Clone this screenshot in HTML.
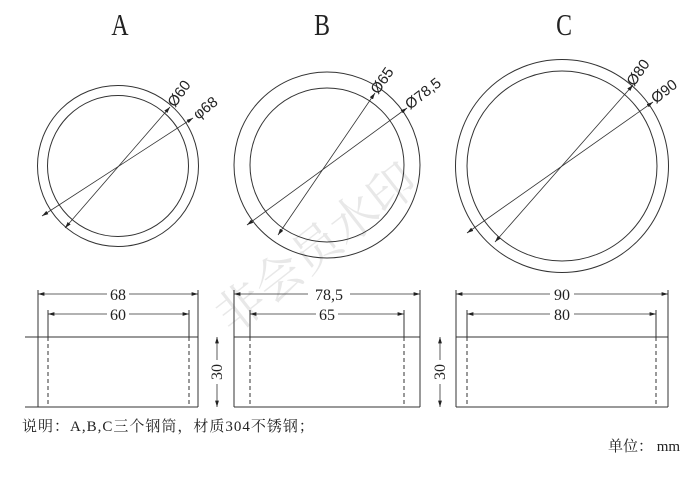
<!DOCTYPE html>
<html><head><meta charset="utf-8"><style>
html,body{margin:0;padding:0;background:#fff;}
svg{display:block;}
text{font-family:"Liberation Serif","Noto Serif CJK SC",serif;fill:#222;}
.s{font-family:"Liberation Sans","DejaVu Sans",sans-serif;}
</style></head><body>
<svg width="700" height="494" viewBox="0 0 700 494" xmlns="http://www.w3.org/2000/svg">
<defs>
<marker id="a" viewBox="0 0 10 6" refX="10" refY="3" markerWidth="8" markerHeight="5" orient="auto-start-reverse"><path d="M0,0L10,3L0,6z" fill="#222"/></marker>
</defs>
<text transform="translate(232,335) rotate(-38)" font-size="48" style="fill:#e8e8e8">非会员水印</text>
<g stroke="#333" fill="none" stroke-width="1">
<circle cx="118" cy="166" r="80.5"/><circle cx="118" cy="166" r="70.5"/>
<circle cx="327" cy="165" r="93"/><circle cx="327" cy="165" r="77"/>
<circle cx="562" cy="166" r="106.5"/><circle cx="562" cy="166" r="95"/>
<line x1="42" y1="216" x2="193" y2="118" marker-start="url(#a)" marker-end="url(#a)" stroke-width="0.8"/>
<line x1="65" y1="228" x2="170" y2="107" marker-start="url(#a)" marker-end="url(#a)" stroke-width="0.8"/>
<line x1="247" y1="225" x2="407" y2="108" marker-start="url(#a)" marker-end="url(#a)" stroke-width="0.8"/>
<line x1="278" y1="235" x2="375" y2="93" marker-start="url(#a)" marker-end="url(#a)" stroke-width="0.8"/>
<line x1="467" y1="233" x2="653" y2="102" marker-start="url(#a)" marker-end="url(#a)" stroke-width="0.8"/>
<line x1="495" y1="242" x2="633" y2="85" marker-start="url(#a)" marker-end="url(#a)" stroke-width="0.8"/>
<line x1="25" y1="337" x2="198" y2="337"/><line x1="25" y1="407" x2="198" y2="407"/>
<line x1="38" y1="290" x2="38" y2="407"/><line x1="198" y1="290" x2="198" y2="407"/>
<line x1="48" y1="310" x2="48" y2="337"/><line x1="189" y1="310" x2="189" y2="337"/>
<line x1="48" y1="337" x2="48" y2="407" stroke-dasharray="4,3"/><line x1="189" y1="337" x2="189" y2="407" stroke-dasharray="4,3"/>
<line x1="38" y1="294" x2="198" y2="294" marker-start="url(#a)" marker-end="url(#a)" stroke-width="0.8"/>
<line x1="48" y1="314" x2="189" y2="314" marker-start="url(#a)" marker-end="url(#a)" stroke-width="0.8"/>
<line x1="234" y1="337" x2="420" y2="337"/><line x1="234" y1="407" x2="420" y2="407"/>
<line x1="234" y1="290" x2="234" y2="407"/><line x1="420" y1="290" x2="420" y2="407"/>
<line x1="250" y1="310" x2="250" y2="337"/><line x1="404" y1="310" x2="404" y2="337"/>
<line x1="250" y1="337" x2="250" y2="407" stroke-dasharray="4,3"/><line x1="404" y1="337" x2="404" y2="407" stroke-dasharray="4,3"/>
<line x1="234" y1="294" x2="420" y2="294" marker-start="url(#a)" marker-end="url(#a)" stroke-width="0.8"/>
<line x1="250" y1="314" x2="404" y2="314" marker-start="url(#a)" marker-end="url(#a)" stroke-width="0.8"/>
<line x1="217" y1="337" x2="217" y2="407" marker-start="url(#a)" marker-end="url(#a)" stroke-width="0.8"/>
<line x1="456" y1="337" x2="668" y2="337"/><line x1="456" y1="407" x2="668" y2="407"/>
<line x1="456" y1="290" x2="456" y2="407"/><line x1="668" y1="290" x2="668" y2="407"/>
<line x1="467" y1="310" x2="467" y2="337"/><line x1="656" y1="310" x2="656" y2="337"/>
<line x1="467" y1="337" x2="467" y2="407" stroke-dasharray="4,3"/><line x1="656" y1="337" x2="656" y2="407" stroke-dasharray="4,3"/>
<line x1="456" y1="294" x2="668" y2="294" marker-start="url(#a)" marker-end="url(#a)" stroke-width="0.8"/>
<line x1="467" y1="314" x2="656" y2="314" marker-start="url(#a)" marker-end="url(#a)" stroke-width="0.8"/>
<line x1="440" y1="337" x2="440" y2="407" marker-start="url(#a)" marker-end="url(#a)" stroke-width="0.8"/>
</g>
<g fill="#fff">
<rect x="107" y="286" width="22" height="16"/><rect x="107" y="306" width="22" height="16"/>
<rect x="308" y="286" width="42" height="16"/><rect x="316" y="306" width="22" height="16"/>
<rect x="550" y="286" width="24" height="16"/><rect x="550" y="306" width="24" height="16"/>
<rect x="209" y="360" width="16" height="24"/><rect x="432" y="360" width="16" height="24"/>
</g>
<g font-size="28" text-anchor="middle">
<text transform="translate(120,35) scale(0.85,1.1)">A</text><text transform="translate(322,35) scale(0.85,1.1)">B</text><text transform="translate(564,35) scale(0.85,1.1)">C</text>
</g>
<g font-size="16" text-anchor="middle">
<text x="118" y="300">68</text><text x="118" y="320">60</text>
<text x="329" y="300">78,5</text><text x="327" y="320">65</text>
<text x="562" y="300">90</text><text x="562" y="320">80</text>
<text transform="translate(222,372) rotate(-90)">30</text>
<text transform="translate(445,372) rotate(-90)">30</text>
</g>
<g font-size="15">
<text class="s" transform="translate(175,108) rotate(-55)">Ø60</text>
<text class="s" transform="translate(198,120) rotate(-38)">φ68</text>
<text class="s" transform="translate(378,95) rotate(-55)">Ø65</text>
<text class="s" transform="translate(410,110) rotate(-38)">Ø78,5</text>
<text class="s" transform="translate(634,87) rotate(-55)">Ø80</text>
<text class="s" transform="translate(656,104) rotate(-38)">Ø90</text>
</g>
<text x="22" y="431" font-size="15" letter-spacing="1">说明：A,B,C三个钢筒，材质304不锈钢；</text>
<text x="608" y="451" font-size="15">单位： mm</text>
</svg>
</body></html>
